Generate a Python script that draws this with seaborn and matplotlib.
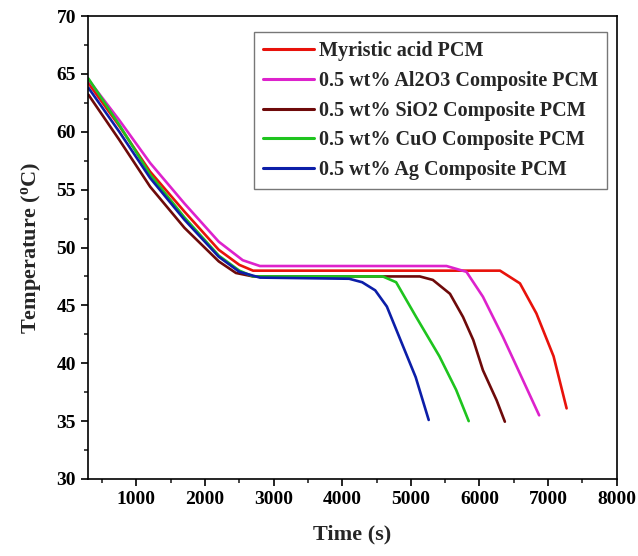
import numpy as np
import pandas as pd
import matplotlib
matplotlib.use("Agg")
import matplotlib.pyplot as plt
import seaborn as sns
from matplotlib.ticker import MultipleLocator

# ---- data ----
t_myristic = [300, 750, 1200, 1700, 2200, 2500, 2700, 6300, 6590, 6830, 7080, 7270]
T_myristic = [64.2, 60.5, 56.55, 53.1, 49.8, 48.5, 48.0, 48.0, 46.9, 44.3, 40.6, 36.1]

t_al2o3 = [300, 750, 1200, 1700, 2200, 2550, 2800, 5520, 5810, 6050, 6340, 6590, 6870]
T_al2o3 = [64.5, 61.0, 57.3, 53.8, 50.5, 48.9, 48.4, 48.4, 47.9, 45.75, 42.3, 39.1, 35.5]

t_sio2 = [300, 750, 1200, 1700, 2200, 2450, 2700, 5130, 5320, 5570, 5760, 5910, 6050, 6250, 6370]
T_sio2 = [63.2, 59.3, 55.25, 51.7, 48.8, 47.8, 47.5, 47.5, 47.2, 46.0, 44.0, 42.0, 39.4, 36.8, 34.95]

t_cuo = [300, 750, 1200, 1700, 2200, 2500, 2700, 4590, 4785, 5077, 5416, 5660, 5843]
T_cuo = [64.6, 60.6, 56.3, 52.6, 49.3, 48.0, 47.5, 47.5, 47.0, 44.0, 40.6, 37.7, 35.0]

t_ag = [300, 750, 1200, 1700, 2200, 2500, 2800, 4100, 4290, 4480, 4650, 4870, 5070, 5260]
T_ag = [63.8, 60.0, 56.0, 52.4, 49.2, 47.9, 47.4, 47.3, 47.0, 46.3, 44.9, 41.7, 38.8, 35.1]

labels = ["Myristic acid PCM",
          "0.5 wt% Al2O3 Composite PCM",
          "0.5 wt% SiO2 Composite PCM",
          "0.5 wt% CuO Composite PCM",
          "0.5 wt% Ag Composite PCM"]
colors = ["#e8120b", "#dd22cc", "#6e0a0a", "#1ec41e", "#0c1ea8"]

x_ticks = [1000, 2000, 3000, 4000, 5000, 6000, 7000, 8000]
y_ticks = [30, 35, 40, 45, 50, 55, 60, 65, 70]

series = [(t_myristic, T_myristic), (t_al2o3, T_al2o3), (t_sio2, T_sio2),
          (t_cuo, T_cuo), (t_ag, T_ag)]
frames = []
for lab, (t, T) in zip(labels, series):
    frames.append(pd.DataFrame({"Time": t, "Temp": T, "Sample": lab}))
df = pd.concat(frames, ignore_index=True)

# ---- style ----
sns.set_style("ticks")
plt.rcParams["font.family"] = ["Liberation Serif", "DejaVu Serif"]
plt.rcParams["font.weight"] = "bold"
plt.rcParams["axes.labelweight"] = "bold"
plt.rcParams["mathtext.fontset"] = "custom"
plt.rcParams["mathtext.rm"] = "Liberation Serif:bold"
plt.rcParams["mathtext.it"] = "Liberation Serif:bold"
plt.rcParams["mathtext.bf"] = "Liberation Serif:bold"

fig = plt.figure(figsize=(6.38, 5.56), dpi=100)
ax = fig.add_axes([0.1375, 0.1385, 0.9666 - 0.1375, 0.9712 - 0.1385])

sns.lineplot(data=df, x="Time", y="Temp", hue="Sample", hue_order=labels,
             palette=colors, linewidth=1.9, sort=False, estimator=None, ax=ax)

ax.set_xlim(290, 8000)
ax.set_ylim(30, 70)
ax.set_xticks(x_ticks)
ax.set_yticks(y_ticks)
ax.xaxis.set_minor_locator(MultipleLocator(500))
ax.yaxis.set_minor_locator(MultipleLocator(2.5))
ax.tick_params(axis="both", which="major", direction="out", length=5, width=1.2,
               labelsize=14, colors="black")
ax.tick_params(axis="both", which="minor", direction="out", length=3, width=1.2)
for lab in ax.get_xticklabels() + ax.get_yticklabels():
    lab.set_fontweight("bold")
for s in ax.spines.values():
    s.set_linewidth(1.2)
    s.set_color("black")
    s.set_visible(True)

ax.set_xlabel("Time (s)", fontsize=16, fontweight="bold", labelpad=12)
ax.set_ylabel("Temperature ($^{o}$C)", fontsize=16, fontweight="bold", labelpad=10)

leg = ax.legend(loc="upper left", bbox_to_anchor=(0.315, 0.965), fontsize=14.5,
                frameon=True, fancybox=False, edgecolor="#555555",
                handlelength=2.5, handletextpad=0.25, labelspacing=0.48,
                borderpad=0.45, borderaxespad=0.0)
leg.get_frame().set_linewidth(1.0)
for txt in leg.get_texts():
    txt.set_fontweight("bold")
for h in leg.get_lines():
    h.set_linewidth(2.2)

fig.savefig("out.png", dpi=100, facecolor="white")
